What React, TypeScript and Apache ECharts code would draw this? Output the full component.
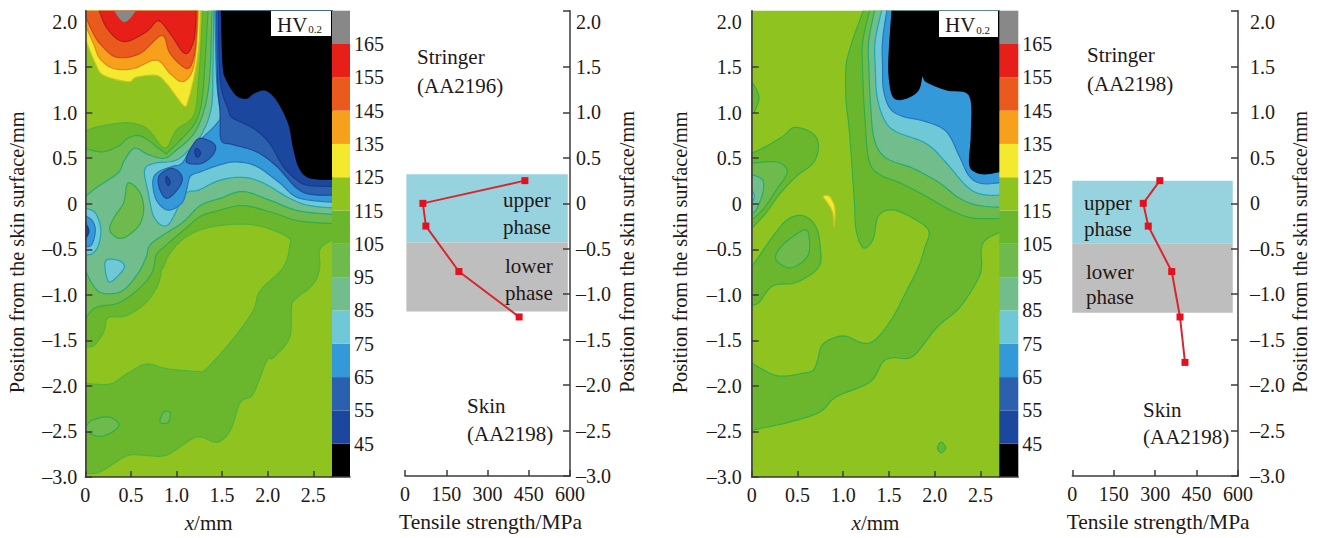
import React, { useEffect, useRef } from "react";
import * as echarts from "echarts";

// hardness scale
const scaleStops = [35, 45, 55, 65, 75, 85, 95, 105, 115, 125, 135, 145, 155, 165, 175];
const scaleLabels = [45, 55, 65, 75, 85, 95, 105, 115, 125, 135, 145, 155, 165];
const scaleColors = ["#000000", "#1b479f", "#2a60ad", "#3399d8", "#6fc8d5", "#71bd8b", "#6fba4c", "#6ab72e", "#8fc31f", "#f3e92f", "#f6a01b", "#ea5a1c", "#e71f19", "#888888"];
const levelStroke: Record<number, string> = { 0: "#000000", 1: "#143a8c", 2: "#1c4a9a", 3: "#2478bd", 4: "#22a5b4", 5: "#22ad72", 6: "#2fae4a", 7: "#38ae48", 8: "#4fb43a", 9: "#c9c324", 10: "#e0861a", 11: "#c94a1a", 12: "#b81c1a", 13: "#888888" };

type Pt = [number, number];
type Layer = { level: number; pts: Pt[] };

// left map: contour regions in mm (x, position), value level = index into scale
const leftBase: Pt[] = [[0, -3], [2.8, -3], [2.8, 2.2], [0, 2.2]];
const leftLowerRight: Pt[] = [[0, -2.96], [0.16, -2.945], [0.45, -2.77], [0.64, -2.76], [0.89, -2.76], [1.22, -2.56], [1.44, -2.62], [1.59, -2.49], [1.7, -2.18], [1.84, -2.09], [1.99, -1.72], [2.06, -1.69], [2.24, -1.47], [2.26, -1.14], [2.3, -1.05], [2.5, -0.88], [2.57, -0.7], [2.58, -0.485], [2.8, -0.35], [2.8, -3], [0, -3]];
const leftCentre: Pt[] = [[0.855, -0.7], [0.93, -0.54], [1.11, -0.36], [1.4, -0.25], [1.84, -0.23], [2.21, -0.36], [2.24, -0.47], [2.17, -0.7], [1.915, -0.96], [1.84, -1.175], [1.62, -1.485], [1.33, -1.81], [1.22, -1.84], [0.89, -1.81], [0.67, -1.76], [0.45, -1.87], [0.27, -1.98], [0, -1.97], [0, -1.56], [0.09, -1.56], [0.2, -1.41], [0.25, -1.25], [0.45, -1.23], [0.67, -1.08], [0.8, -0.88], [0.84, -0.7]];
const leftUpper: Pt[] = [[0, 0.8], [0.16, 0.85], [0.45, 0.89], [0.67, 0.83], [0.87, 0.61], [1.0, 0.81], [1.19, 0.97], [1.24, 1.34], [1.27, 1.75], [1.29, 2.2], [0, 2.2]];
const leftSpeck: Pt[] = [[0.82, -2.4], [0.855, -2.29], [0.93, -2.29], [0.91, -2.4]];
const leftBlobLow: Pt[] = [[0, -2.46], [0.07, -2.38], [0.25, -2.34], [0.37, -2.42], [0.29, -2.51], [0.14, -2.555], [0, -2.49]];
const leftMid: Pt[] = [[0, 0.61], [0.18, 0.57], [0.36, 0.63], [0.47, 0.72], [0.62, 0.74], [0.87, 0.56], [0.91, 0.57], [1.11, 0.77], [1.22, 0.92], [1.28, 1.14], [1.31, 1.5], [1.35, 2.2], [2.8, 2.2], [2.8, -0.22], [2.35, -0.19], [2.06, -0.1], [1.73, -0.02], [1.44, -0.08], [1.26, -0.14], [1.09, -0.28], [0.87, -0.47], [0.78, -0.56], [0.73, -0.76], [0.58, -0.94], [0.36, -1.09], [0.11, -1.14], [0, -1.27]];
const leftTeal: Pt[] = [[0, 0.08], [0.14, 0.19], [0.36, 0.34], [0.43, 0.48], [0.54, 0.61], [0.69, 0.54], [0.87, 0.5], [1.0, 0.59], [1.15, 0.72], [1.25, 0.88], [1.33, 1.14], [1.37, 1.5], [1.39, 2.2], [2.8, 2.2], [2.8, -0.12], [2.35, -0.08], [2.02, 0.04], [1.73, 0.135], [1.48, 0.06], [1.26, -0.02], [1.06, -0.21], [0.73, -0.43], [0.67, -0.58], [0.58, -0.76], [0.4, -0.96], [0.18, -0.98], [0.07, -0.87], [0, -0.72]];
const leftIsland: Pt[] = [[0.47, 0.23], [0.6, 0.12], [0.64, -0.07], [0.58, -0.25], [0.4, -0.38], [0.27, -0.3], [0.31, -0.16], [0.42, 0.01]];
const leftCyan: Pt[] = [[0.65, 0.37], [0.76, 0.445], [1.0, 0.48], [1.17, 0.63], [1.29, 0.79], [1.385, 1.07], [1.4, 1.5], [1.41, 2.2], [2.8, 2.2], [2.8, -0.05], [2.46, -0.02], [2.24, 0.06], [1.95, 0.23], [1.73, 0.29], [1.48, 0.26], [1.24, 0.15], [1.09, 0.1], [0.91, -0.23], [0.76, -0.16], [0.69, 0.12]];
const leftCyanEdge: Pt[] = [[0, -0.05], [0.11, -0.1], [0.17, -0.28], [0.14, -0.47], [0.07, -0.55], [0, -0.56]];
const leftCyanSmall: Pt[] = [[0.22, -0.63], [0.36, -0.62], [0.43, -0.69], [0.34, -0.81], [0.25, -0.85]];
const leftBlueEdge: Pt[] = [[0, -0.13], [0.08, -0.19], [0.11, -0.3], [0.07, -0.45], [0, -0.47]];
const leftBlue: Pt[] = [[0.74, 0.245], [0.8, 0.35], [0.96, 0.41], [1.06, 0.445], [1.15, 0.59], [1.26, 0.7], [1.44, 0.88], [1.48, 0.99], [1.44, 1.36], [1.42, 2.2], [2.8, 2.2], [2.8, 0.015], [2.35, 0.06], [2.13, 0.23], [1.88, 0.41], [1.66, 0.46], [1.48, 0.43], [1.26, 0.35], [1.15, 0.3], [1.11, 0.15], [1.06, 0.01], [0.91, -0.07], [0.78, 0.04]];
const leftDarkA: Pt[] = [[0.8, 0.28], [0.855, 0.35], [0.95, 0.39], [1.04, 0.335], [1.06, 0.245], [0.98, 0.12], [0.89, 0.06], [0.82, 0.15]];
const leftDarkB: Pt[] = [[1.11, 0.5], [1.17, 0.63], [1.26, 0.72], [1.42, 0.65], [1.4, 0.54], [1.28, 0.445], [1.13, 0.445]];
const leftDark: Pt[] = [[1.44, 2.2], [1.45, 1.36], [1.48, 0.99], [1.49, 0.7], [1.62, 0.65], [1.88, 0.57], [2.1, 0.41], [2.32, 0.17], [2.5, 0.1], [2.8, 0.1], [2.8, 2.2]];
const leftNavy: Pt[] = [[1.46, 2.2], [1.48, 1.36], [1.57, 1.03], [1.62, 0.94], [1.84, 0.83], [2.02, 0.665], [2.17, 0.41], [2.32, 0.26], [2.46, 0.2], [2.8, 0.19], [2.8, 2.2]];
const leftNavyA: Pt[] = [[0.89, 0.3], [0.93, 0.245], [0.91, 0.2], [0.885, 0.245]];
const leftNavyB: Pt[] = [[1.22, 0.61], [1.265, 0.56], [1.23, 0.51], [1.2, 0.56]];
const leftNavyEdge: Pt[] = [[0, -0.21], [0.04, -0.3], [0, -0.39]];
const leftBlack: Pt[] = [[1.49, 2.2], [1.51, 1.54], [1.55, 1.36], [1.66, 1.19], [1.77, 1.16], [1.84, 1.21], [1.97, 1.25], [2.1, 1.14], [2.23, 0.88], [2.28, 0.63], [2.34, 0.41], [2.43, 0.3], [2.57, 0.27], [2.8, 0.27], [2.8, 2.2]];
const leftYellow: Pt[] = [[0, 2.2], [1.26, 2.2], [1.25, 1.8], [1.2, 1.43], [1.13, 1.14], [1.09, 1.07], [1.0, 1.175], [0.89, 1.32], [0.78, 1.41], [0.56, 1.39], [0.47, 1.34], [0.2, 1.41], [0.11, 1.54], [0, 1.81]];
const leftOrange: Pt[] = [[0, 2.2], [1.24, 2.2], [1.22, 1.76], [1.17, 1.45], [1.06, 1.34], [0.93, 1.43], [0.78, 1.58], [0.53, 1.485], [0.31, 1.485], [0.16, 1.595], [0.09, 1.76], [0, 1.96]];
const leftOrangeRed: Pt[] = [[0, 2.2], [1.23, 2.2], [1.22, 1.905], [1.19, 1.61], [1.11, 1.485], [0.93, 1.65], [0.84, 1.85], [0.6, 1.65], [0.34, 1.61], [0.16, 1.76], [0.07, 1.905], [0, 2.07]];
const leftRed: Pt[] = [[0.13, 2.2], [1.21, 2.2], [1.21, 1.98], [1.18, 1.76], [1.09, 1.65], [0.93, 1.87], [0.8, 2.01], [0.67, 1.89], [0.42, 1.78], [0.23, 1.94]];
const leftGray: Pt[] = [[0.28, 2.2], [0.43, 2.0], [0.6, 2.2]];

const leftLayers: Layer[] = [
  { level: 7, pts: leftBase }, { level: 8, pts: leftLowerRight }, { level: 8, pts: leftCentre }, { level: 8, pts: leftUpper },
  { level: 6, pts: leftSpeck }, { level: 6, pts: leftBlobLow }, { level: 6, pts: leftMid }, { level: 5, pts: leftTeal },
  { level: 6, pts: leftIsland }, { level: 4, pts: leftCyan }, { level: 4, pts: leftCyanEdge }, { level: 4, pts: leftCyanSmall },
  { level: 3, pts: leftBlueEdge }, { level: 3, pts: leftBlue }, { level: 2, pts: leftDarkA }, { level: 2, pts: leftDarkB },
  { level: 2, pts: leftDark }, { level: 1, pts: leftNavy }, { level: 1, pts: leftNavyA }, { level: 1, pts: leftNavyB },
  { level: 1, pts: leftNavyEdge }, { level: 0, pts: leftBlack }, { level: 9, pts: leftYellow }, { level: 10, pts: leftOrange },
  { level: 11, pts: leftOrangeRed }, { level: 12, pts: leftRed }, { level: 13, pts: leftGray },
];

// right map
const rightBase: Pt[] = [[0, -3], [2.8, -3], [2.8, 2.2], [0, 2.2]];
const rightGreen: Pt[] = [[1.25, 2.2], [1.14, 1.905], [1.07, 1.69], [1.03, 1.5], [1.03, 1.14], [1.07, 0.77], [1.12, 0.04], [1.14, -0.285], [1.22, -0.485], [1.325, -0.39], [1.38, -0.14], [1.51, -0.066], [1.69, -0.12], [1.93, -0.285], [1.89, -0.485], [1.82, -0.7], [1.69, -0.96], [1.54, -1.25], [1.36, -1.485], [1.215, -1.53], [1.0, -1.45], [0.78, -1.54], [0.72, -1.72], [0.67, -1.83], [0.56, -1.86], [0.38, -1.89], [0.23, -1.875], [0, -1.75], [0, -2.49], [0.08, -2.47], [0.38, -2.405], [0.74, -2.29], [0.92, -2.12], [1.29, -1.96], [1.43, -1.74], [1.54, -1.69], [1.76, -1.675], [2.02, -1.36], [2.27, -1.14], [2.46, -0.85], [2.51, -0.7], [2.51, -0.485], [2.58, -0.376], [2.8, -0.28], [2.8, 2.2]];
const rightMid: Pt[] = [[1.31, 2.2], [1.215, 1.8], [1.21, 1.5], [1.235, 0.96], [1.28, 0.48], [1.4, 0.32], [1.62, 0.23], [1.91, 0.08], [2.165, -0.066], [2.42, -0.157], [2.8, -0.157], [2.8, 2.2]];
const rightTeal: Pt[] = [[1.36, 2.2], [1.28, 1.8], [1.28, 1.5], [1.3, 1.07], [1.34, 0.7], [1.47, 0.5], [1.76, 0.39], [2.05, 0.23], [2.27, 0.06], [2.49, -0.02], [2.8, -0.04], [2.8, 2.2]];
const rightCyan: Pt[] = [[1.44, 2.2], [1.35, 1.8], [1.35, 1.5], [1.37, 1.175], [1.45, 0.92], [1.58, 0.79], [1.91, 0.66], [2.13, 0.445], [2.35, 0.19], [2.53, 0.1], [2.8, 0.1], [2.8, 2.2]];
const rightBlue: Pt[] = [[1.49, 2.2], [1.43, 1.8], [1.43, 1.5], [1.44, 1.25], [1.51, 1.05], [1.65, 0.96], [1.91, 0.9], [2.13, 0.79], [2.27, 0.52], [2.38, 0.3], [2.53, 0.22], [2.8, 0.245], [2.8, 2.2]];
const rightBlack: Pt[] = [[1.54, 2.2], [1.5, 1.61], [1.51, 1.32], [1.56, 1.16], [1.69, 1.16], [1.82, 1.25], [1.865, 1.41], [1.91, 1.34], [2.13, 1.25], [2.38, 1.19], [2.4, 0.77], [2.38, 0.445], [2.44, 0.354], [2.57, 0.33], [2.8, 0.375], [2.8, 2.2]];
const rightStrip: Pt[] = [[0, 1.34], [0.08, 1.175], [0.03, 1.01], [0, 0.99]];
const rightBlobG: Pt[] = [[0, 0.555], [0.157, 0.63], [0.34, 0.74], [0.47, 0.84], [0.67, 0.77], [0.73, 0.63], [0.67, 0.445], [0.485, 0.3], [0.3, 0.1], [0.157, -0.1], [0, -0.27]];
const rightBlobM: Pt[] = [[0, 0.445], [0.27, 0.46], [0.39, 0.354], [0.27, 0.153], [0.12, -0.066], [0, -0.175]];
const rightBlobT: Pt[] = [[0, 0.32], [0.12, 0.26], [0.12, 0.117], [0.05, -0.066], [0, -0.1]];
const rightBlobC: Pt[] = [[0, 0.153], [0.03, 0.08], [0, 0.01]];
const rightLowerG: Pt[] = [[0.56, -0.13], [0.39, -0.175], [0.23, -0.36], [0.08, -0.577], [0, -0.686], [0, -1.11], [0.08, -1.084], [0.23, -0.9], [0.485, -0.865], [0.73, -0.7], [0.75, -0.485], [0.7, -0.25]];
const rightLowerM: Pt[] = [[0.58, -0.285], [0.63, -0.394], [0.61, -0.577], [0.45, -0.7], [0.32, -0.668], [0.26, -0.577], [0.36, -0.43]];
const rightDiamond: Pt[] = [[2.07, -2.617], [2.12, -2.68], [2.07, -2.734], [2.03, -2.68]];
const rightSliver: Pt[] = [[0.78, 0.08], [0.85, 0.08], [0.91, -0.047], [0.9, -0.25], [0.885, -0.1], [0.83, 0.007]];

const rightLayers: Layer[] = [
  { level: 8, pts: rightBase }, { level: 7, pts: rightGreen }, { level: 6, pts: rightMid }, { level: 5, pts: rightTeal },
  { level: 4, pts: rightCyan }, { level: 3, pts: rightBlue }, { level: 0, pts: rightBlack }, { level: 7, pts: rightStrip },
  { level: 7, pts: rightBlobG }, { level: 6, pts: rightBlobM }, { level: 5, pts: rightBlobT }, { level: 4, pts: rightBlobC },
  { level: 7, pts: rightLowerG }, { level: 6, pts: rightLowerM }, { level: 7, pts: rightDiamond }, { level: 9, pts: rightSliver },
];

// tensile strength profiles
const positions1 = [0.25, 0, -0.25, -0.75, -1.25];
const strength1 = [436, 65, 76, 196, 415];
const positions2 = [0.25, 0, -0.25, -0.75, -1.25, -1.75];
const strength2 = [317, 257, 275, 360, 390, 408];
const phases1 = { upper: [0.32, -0.43], lower: [-0.43, -1.19], span: [5, 592] };
const phases2 = { upper: [0.25, -0.44], lower: [-0.44, -1.205], span: [0, 581] };

const xTicksMap = [0, 0.5, 1.0, 1.5, 2.0, 2.5];
const yLabelValues = [-3, -2.5, -2, -1.5, -1, -0.5, 0, 0.5, 1, 1.5, 2];
const yTickValues = [-3, -2.5, -2, -1.5, -1, -0.5, 0, 0.5, 1, 1.5];
const yTop = 2.12;
const xEnd = 2.705;

const FONT = "'Liberation Serif', serif";
const INK = "#231815";
const AXIS = "#3e3a39";
const FS = 20;

const fmt = (v: number) => (v === 0 ? "0" : (v < 0 ? "\u2013" : "") + Math.abs(v).toFixed(1));

// Curve through the traced contour vertices; vertices on the plot's border stay sharp.
function curve(pts: { x: number; y: number; s: boolean }[]) {
  const n = pts.length;
  const tan = pts.map((p, i) => {
    const a = pts[(i - 1 + n) % n];
    const b = pts[(i + 1) % n];
    return p.s ? { x: 0, y: 0 } : { x: (b.x - a.x) * 0.5, y: (b.y - a.y) * 0.5 };
  });
  const out: number[][] = [];
  for (let i = 0; i < n; i++) {
    const j = (i + 1) % n;
    const p = pts[i];
    const q = pts[j];
    const steps = p.s && q.s ? 1 : 6;
    for (let k = 0; k < steps; k++) {
      const t = k / steps;
      const t2 = t * t;
      const t3 = t2 * t;
      const h1 = 2 * t3 - 3 * t2 + 1;
      const h2 = t3 - 2 * t2 + t;
      const h3 = -2 * t3 + 3 * t2;
      const h4 = t3 - t2;
      out.push([
        h1 * p.x + h2 * tan[i].x + h3 * q.x + h4 * tan[j].x,
        h1 * p.y + h2 * tan[i].y + h3 * q.y + h4 * tan[j].y,
      ]);
    }
  }
  return out;
}

const contourSeries = (layers: Layer[], axis: number) => ({
  type: "custom",
  xAxisIndex: axis,
  yAxisIndex: axis,
  clip: true,
  silent: true,
  data: layers.map((_, i) => [0, 0, i]),
  renderItem: (params: any, api: any) => {
    const layer = layers[params.dataIndex];
    const raw = layer.pts.map(([x, y]) => {
      const c = api.coord([x, y]);
      return { x: c[0], y: c[1], s: x <= 0 || x >= 2.7 || y >= 2.1 || y <= -3 };
    });
    return {
      type: "polygon",
      shape: { points: curve(raw) },
      style: { fill: scaleColors[layer.level], stroke: levelStroke[layer.level], lineWidth: 1.2 },
    };
  },
});

const scaleSeries = (axis: number) => ({
  type: "custom",
  xAxisIndex: axis,
  yAxisIndex: axis,
  silent: true,
  data: scaleColors.map((_, i) => [0, scaleStops[i], scaleStops[i + 1], i]),
  renderItem: (params: any, api: any) => {
    const i = params.dataIndex;
    const a = api.coord([0, scaleStops[i]]);
    const b = api.coord([1, scaleStops[i + 1]]);
    return { type: "rect", shape: { x: a[0], y: b[1], width: b[0] - a[0], height: a[1] - b[1] }, style: { fill: scaleColors[i] } };
  },
});

const profileSeries = (vals: number[], pos: number[], axis: number, ph: typeof phases1) => ({
  type: "line",
  xAxisIndex: axis,
  yAxisIndex: axis,
  data: vals.map((v, i) => [v, pos[i]]),
  symbol: "rect",
  symbolSize: 7,
  lineStyle: { color: "#d6272d", width: 2 },
  itemStyle: { color: "#e60f1e" },
  markArea: {
    silent: true,
    data: [
      [{ coord: [ph.span[0], ph.upper[0]], itemStyle: { color: "#97d3df" } }, { coord: [ph.span[1], ph.upper[1]] }],
      [{ coord: [ph.span[0], ph.lower[0]], itemStyle: { color: "#bfbebe" } }, { coord: [ph.span[1], ph.lower[1]] }],
    ],
  },
});

const labelStyle = { color: INK, fontFamily: FONT, fontSize: FS };
const lineStyle = { color: AXIS, width: 1.5 };
const yTitleStyle = { color: INK, fontFamily: FONT, fontSize: 20.4, padding: [0, 17, 0, 0] };

const mapX = (grid: number) => ({
  type: "value", gridIndex: grid, min: 0, max: xEnd, z: 10,
  name: "{i|x}/mm", nameLocation: "middle", nameGap: 35,
  nameTextStyle: { color: INK, fontFamily: FONT, fontSize: 21, rich: { i: { color: INK, fontFamily: FONT, fontSize: 21, fontStyle: "italic" } } },
  splitLine: { show: false },
  axisLine: { onZero: false, lineStyle },
  axisTick: { inside: true, length: 6, lineStyle, customValues: xTicksMap },
  axisLabel: { ...labelStyle, margin: 8, customValues: xTicksMap, formatter: (v: number) => (v === 0 ? "0" : v.toFixed(1)) },
});
const mapY = (grid: number, margin: number, gap: number) => ({
  type: "value", gridIndex: grid, min: -3, max: yTop, z: 10,
  name: "Position from the skin surface/mm", nameLocation: "middle", nameGap: gap, nameRotate: 90,
  nameTextStyle: yTitleStyle,
  splitLine: { show: false },
  axisLine: { onZero: false, lineStyle },
  axisTick: { inside: true, length: 7, lineStyle, customValues: yTickValues },
  axisLabel: { ...labelStyle, margin, padding: [0, 0, 2, 0], customValues: yLabelValues, formatter: fmt },
});
const barX = (grid: number) => ({
  type: "value", gridIndex: grid, min: 0, max: 1, z: 10,
  splitLine: { show: false }, axisLine: { onZero: false, lineStyle }, axisTick: { show: false }, axisLabel: { show: false },
});
const barY = (grid: number) => ({
  type: "value", gridIndex: grid, min: 35, max: 175,
  splitLine: { show: false }, axisLine: { show: false }, axisTick: { show: false },
  axisLabel: { ...labelStyle, margin: 4, customValues: scaleLabels, formatter: (v: number) => String(v) },
  position: "right",
});
const profX = (grid: number) => ({
  type: "value", gridIndex: grid, min: 0, max: 600, interval: 150, z: 10,
  name: "Tensile strength/MPa", nameLocation: "middle", nameGap: 35,
  nameTextStyle: { color: INK, fontFamily: FONT, fontSize: 21.5, padding: [0, 0, 0, 6] },
  splitLine: { show: false },
  axisLine: { onZero: false, lineStyle },
  axisTick: { inside: true, length: 6, lineStyle },
  axisLabel: { ...labelStyle, margin: 8 },
});
const profY = (grid: number, margin: number, gap: number) => ({
  type: "value", gridIndex: grid, min: -3, max: yTop, position: "right", z: 10,
  name: "Position from the skin surface/mm", nameLocation: "middle", nameGap: gap, nameRotate: 90,
  nameTextStyle: yTitleStyle,
  splitLine: { show: false },
  axisLine: { onZero: false, lineStyle },
  axisTick: { inside: true, length: 7, lineStyle, customValues: [...yTickValues, yTop] },
  axisLabel: { ...labelStyle, margin, padding: [0, 0, 2, 0], customValues: yLabelValues, formatter: fmt },
});

const note = (text: string, x: number, y: number) => ({
  type: "text", x, y, z: 40,
  style: { text, fill: INK, font: `21px ${FONT}`, verticalAlign: "middle" },
  silent: true,
});
const hvBox = (x: number, y: number, w: number, h: number) => [
  { type: "rect", x, y, z: 50, shape: { width: w, height: h }, style: { fill: "#ffffff" }, silent: true },
  {
    type: "text", x: x + 6, y: y + h / 2 + 1, z: 51, silent: true,
    style: {
      text: "{a|HV}{b|0.2}", verticalAlign: "middle",
      rich: { a: { fontFamily: FONT, fontSize: 21, fill: INK }, b: { fontFamily: FONT, fontSize: 11, fill: INK, padding: [9, 0, 0, 1] } },
    },
  },
];

const GRID_TOP = 10.7;
const GRID_H = 466.3;

export default function App() {
  const ref = useRef<HTMLDivElement>(null);
  useEffect(() => {
    document.body.style.margin = "0";
    const chart = echarts.init(ref.current!, undefined, { renderer: "svg" });
    chart.setOption({
      animation: false,
      backgroundColor: "#ffffff",
      grid: [
        { left: 85.3, top: GRID_TOP, width: 246.7, height: GRID_H },
        { left: 332, top: GRID_TOP, width: 18, height: GRID_H },
        { left: 405, top: GRID_TOP, width: 165, height: GRID_H },
        { left: 751.7, top: GRID_TOP, width: 247.6, height: GRID_H },
        { left: 999.3, top: GRID_TOP, width: 19, height: GRID_H },
        { left: 1072.3, top: GRID_TOP, width: 165.7, height: GRID_H },
      ],
      xAxis: [mapX(0), barX(1), profX(2), mapX(3), barX(4), profX(5)],
      yAxis: [mapY(0, 8, 58), barY(1), profY(2, 6, 47), mapY(3, 10, 62), barY(4), profY(5, 12, 52)],
      series: [
        contourSeries(leftLayers, 0),
        scaleSeries(1),
        profileSeries(strength1, positions1, 2, phases1),
        contourSeries(rightLayers, 3),
        scaleSeries(4),
        profileSeries(strength2, positions2, 5, phases2),
      ],
      graphic: [
        ...hvBox(271, 11, 60, 25),
        ...hvBox(939, 11, 59, 26),
        note("Stringer", 417, 57), note("(AA2196)", 417, 86),
        note("upper", 503, 200), note("phase", 503, 227), note("lower", 505, 266), note("phase", 505, 293),
        note("Skin", 467, 406), note("(AA2198)", 467, 434),
        note("Stringer", 1087, 55), note("(AA2198)", 1087, 84),
        note("upper", 1084, 203), note("phase", 1084, 229), note("lower", 1086, 272), note("phase", 1086, 297),
        note("Skin", 1143, 410), note("(AA2198)", 1143, 437),
      ],
    });
    return () => chart.dispose();
  }, []);
  return <div ref={ref} style={{ position: "absolute", left: 0, top: 0, width: 1325, height: 538 }} />;
}
